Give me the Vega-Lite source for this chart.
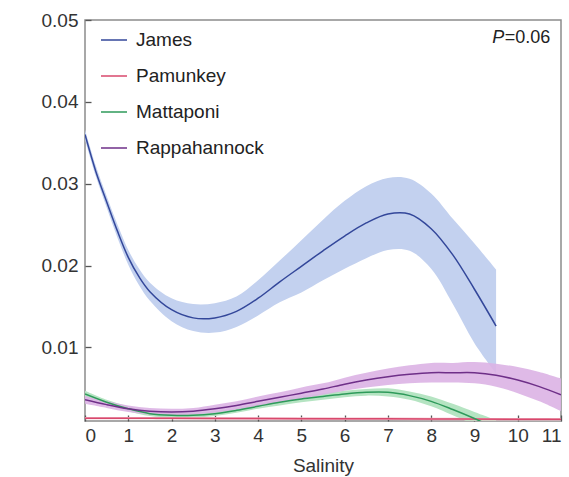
{
  "$schema": "https://vega.github.io/schema/vega-lite/v6.json",
  "width": 476,
  "height": 401,
  "autosize": "none",
  "padding": {"left": 85, "top": 20, "right": 8, "bottom": 56},
  "background": "white",
  "config": {
    "font": "Liberation Sans",
    "view": {"stroke": "#8c8c8c", "strokeWidth": 1.5},
    "axis": {
      "grid": false,
      "domain": false,
      "labelFont": "Liberation Sans",
      "labelFontSize": 19,
      "labelColor": "#333333",
      "titleFont": "Liberation Sans",
      "titleFontSize": 19,
      "titleFontWeight": "normal",
      "titleColor": "#333333"
    }
  },
  "datasets": {
    "fits": [
      {"s": "James", "x": 0, "y": 0.0360, "lo": 0.0354, "hi": 0.0366},
      {"s": "James", "x": 0.25, "y": 0.0315, "lo": 0.0309, "hi": 0.0322},
      {"s": "James", "x": 0.5, "y": 0.0278, "lo": 0.0271, "hi": 0.0285},
      {"s": "James", "x": 0.75, "y": 0.0242, "lo": 0.0234, "hi": 0.0250},
      {"s": "James", "x": 1, "y": 0.0210, "lo": 0.0201, "hi": 0.0219},
      {"s": "James", "x": 1.25, "y": 0.0186, "lo": 0.0176, "hi": 0.0196},
      {"s": "James", "x": 1.5, "y": 0.0168, "lo": 0.0157, "hi": 0.0179},
      {"s": "James", "x": 2, "y": 0.0146, "lo": 0.0132, "hi": 0.0160},
      {"s": "James", "x": 2.5, "y": 0.0136, "lo": 0.0120, "hi": 0.0153},
      {"s": "James", "x": 3, "y": 0.0136, "lo": 0.0118, "hi": 0.0154},
      {"s": "James", "x": 3.5, "y": 0.0144, "lo": 0.0125, "hi": 0.0162},
      {"s": "James", "x": 4, "y": 0.0160, "lo": 0.0139, "hi": 0.0182},
      {"s": "James", "x": 4.5, "y": 0.0180, "lo": 0.0155, "hi": 0.0206},
      {"s": "James", "x": 5, "y": 0.0199, "lo": 0.0167, "hi": 0.0231},
      {"s": "James", "x": 5.5, "y": 0.0218, "lo": 0.0182, "hi": 0.0256},
      {"s": "James", "x": 6, "y": 0.0236, "lo": 0.0196, "hi": 0.0279},
      {"s": "James", "x": 6.5, "y": 0.0252, "lo": 0.0209, "hi": 0.0297},
      {"s": "James", "x": 7, "y": 0.0263, "lo": 0.0219, "hi": 0.0307},
      {"s": "James", "x": 7.5, "y": 0.0263, "lo": 0.0218, "hi": 0.0306},
      {"s": "James", "x": 8, "y": 0.0245, "lo": 0.0196, "hi": 0.0288},
      {"s": "James", "x": 8.5, "y": 0.0213, "lo": 0.0153, "hi": 0.0257},
      {"s": "James", "x": 9, "y": 0.0171, "lo": 0.0105, "hi": 0.0227},
      {"s": "James", "x": 9.5, "y": 0.0126, "lo": 0.0068, "hi": 0.0195},
      {"s": "Pamunkey", "x": 0, "y": 0.00135, "lo": 0.0012, "hi": 0.0015},
      {"s": "Pamunkey", "x": 2, "y": 0.00133, "lo": 0.00118, "hi": 0.00148},
      {"s": "Pamunkey", "x": 4, "y": 0.0013, "lo": 0.00115, "hi": 0.00145},
      {"s": "Pamunkey", "x": 6, "y": 0.00128, "lo": 0.00113, "hi": 0.00143},
      {"s": "Pamunkey", "x": 8, "y": 0.00125, "lo": 0.0011, "hi": 0.0014},
      {"s": "Pamunkey", "x": 10, "y": 0.00122, "lo": 0.00107, "hi": 0.00137},
      {"s": "Pamunkey", "x": 11, "y": 0.0012, "lo": 0.00105, "hi": 0.00135},
      {"s": "Mattaponi", "x": 0, "y": 0.0043, "lo": 0.0039, "hi": 0.0047},
      {"s": "Mattaponi", "x": 0.5, "y": 0.0033, "lo": 0.0030, "hi": 0.0036},
      {"s": "Mattaponi", "x": 1, "y": 0.0025, "lo": 0.0022, "hi": 0.0028},
      {"s": "Mattaponi", "x": 1.5, "y": 0.0019, "lo": 0.0016, "hi": 0.0022},
      {"s": "Mattaponi", "x": 2, "y": 0.0017, "lo": 0.0014, "hi": 0.0020},
      {"s": "Mattaponi", "x": 2.5, "y": 0.0017, "lo": 0.0014, "hi": 0.0020},
      {"s": "Mattaponi", "x": 3, "y": 0.0019, "lo": 0.0016, "hi": 0.0022},
      {"s": "Mattaponi", "x": 3.5, "y": 0.0023, "lo": 0.0020, "hi": 0.0026},
      {"s": "Mattaponi", "x": 4, "y": 0.0028, "lo": 0.0025, "hi": 0.0031},
      {"s": "Mattaponi", "x": 4.5, "y": 0.0033, "lo": 0.0029, "hi": 0.0037},
      {"s": "Mattaponi", "x": 5, "y": 0.0037, "lo": 0.0033, "hi": 0.0041},
      {"s": "Mattaponi", "x": 5.5, "y": 0.0040, "lo": 0.0036, "hi": 0.0044},
      {"s": "Mattaponi", "x": 6, "y": 0.0043, "lo": 0.0039, "hi": 0.0047},
      {"s": "Mattaponi", "x": 6.5, "y": 0.0045, "lo": 0.0041, "hi": 0.0049},
      {"s": "Mattaponi", "x": 7, "y": 0.0045, "lo": 0.0040, "hi": 0.0050},
      {"s": "Mattaponi", "x": 7.5, "y": 0.0041, "lo": 0.0036, "hi": 0.0046},
      {"s": "Mattaponi", "x": 8, "y": 0.0034, "lo": 0.0028, "hi": 0.0040},
      {"s": "Mattaponi", "x": 8.5, "y": 0.0024, "lo": 0.0017, "hi": 0.0031},
      {"s": "Mattaponi", "x": 9, "y": 0.0013, "lo": 0.0005, "hi": 0.0021},
      {"s": "Mattaponi", "x": 9.25, "y": 0.0007, "lo": -0.0002, "hi": 0.0016},
      {"s": "Mattaponi", "x": 9.5, "y": 0.0001, "lo": -0.0009, "hi": 0.0011},
      {"s": "Rappahannock", "x": 0, "y": 0.0036, "lo": 0.0031, "hi": 0.0041},
      {"s": "Rappahannock", "x": 0.5, "y": 0.0030, "lo": 0.0026, "hi": 0.0034},
      {"s": "Rappahannock", "x": 1, "y": 0.0025, "lo": 0.0021, "hi": 0.0029},
      {"s": "Rappahannock", "x": 1.5, "y": 0.0022, "lo": 0.0018, "hi": 0.0026},
      {"s": "Rappahannock", "x": 2, "y": 0.0021, "lo": 0.0017, "hi": 0.0025},
      {"s": "Rappahannock", "x": 2.5, "y": 0.0022, "lo": 0.0018, "hi": 0.0026},
      {"s": "Rappahannock", "x": 3, "y": 0.0025, "lo": 0.0020, "hi": 0.0030},
      {"s": "Rappahannock", "x": 3.5, "y": 0.0029, "lo": 0.0024, "hi": 0.0034},
      {"s": "Rappahannock", "x": 4, "y": 0.0034, "lo": 0.0028, "hi": 0.0040},
      {"s": "Rappahannock", "x": 4.5, "y": 0.0039, "lo": 0.0033, "hi": 0.0045},
      {"s": "Rappahannock", "x": 5, "y": 0.0044, "lo": 0.0037, "hi": 0.0051},
      {"s": "Rappahannock", "x": 5.5, "y": 0.0049, "lo": 0.0042, "hi": 0.0056},
      {"s": "Rappahannock", "x": 6, "y": 0.0055, "lo": 0.0047, "hi": 0.0063},
      {"s": "Rappahannock", "x": 6.5, "y": 0.0060, "lo": 0.0051, "hi": 0.0069},
      {"s": "Rappahannock", "x": 7, "y": 0.0064, "lo": 0.0054, "hi": 0.0074},
      {"s": "Rappahannock", "x": 7.5, "y": 0.0067, "lo": 0.0056, "hi": 0.0078},
      {"s": "Rappahannock", "x": 8, "y": 0.0069, "lo": 0.0057, "hi": 0.0081},
      {"s": "Rappahannock", "x": 8.5, "y": 0.0069, "lo": 0.0057, "hi": 0.0081},
      {"s": "Rappahannock", "x": 9, "y": 0.0069, "lo": 0.0056, "hi": 0.0082},
      {"s": "Rappahannock", "x": 9.5, "y": 0.0066, "lo": 0.0052, "hi": 0.0080},
      {"s": "Rappahannock", "x": 10, "y": 0.0060, "lo": 0.0044, "hi": 0.0076},
      {"s": "Rappahannock", "x": 10.5, "y": 0.0052, "lo": 0.0034, "hi": 0.0070},
      {"s": "Rappahannock", "x": 11, "y": 0.0042, "lo": 0.0022, "hi": 0.0062}
    ],
    "note": [{"x": 10.75, "y": 0.0472, "p": "P", "rest": "=0.06"}]
  },
  "layer": [
    {
      "data": {"name": "fits"},
      "transform": [{"filter": "datum.s === 'James'"}],
      "mark": {"type": "area", "interpolate": "catmull-rom", "clip": true, "color": "#c3d1ef"},
      "encoding": {
        "x": {"field": "x", "type": "quantitative", "scale": {"domain": [0, 11], "nice": false},
              "axis": {"values": [0,1,2,3,4,5,6,7,8,9,10,11], "title": "Salinity",
                       "ticks": true, "tickSize": 6, "offset": -6, "tickColor": "#555555", "tickWidth": 1.3,
                       "labelPadding": 5, "titlePadding": 11}},
        "y": {"field": "lo", "type": "quantitative", "scale": {"domain": [0.001, 0.05], "nice": false, "zero": false},
              "axis": {"values": [0.01, 0.02, 0.03, 0.04, 0.05], "format": ".2f", "title": null,
                       "ticks": true, "tickSize": 6, "offset": -6, "tickColor": "#555555", "tickWidth": 1.3,
                       "labelPadding": 7}},
        "y2": {"field": "hi"}
      }
    },
    {
      "data": {"name": "fits"},
      "transform": [{"filter": "datum.s === 'Mattaponi'"}],
      "mark": {"type": "area", "interpolate": "catmull-rom", "clip": true, "color": "#b5e4c2"},
      "encoding": {
        "x": {"field": "x", "type": "quantitative"},
        "y": {"field": "lo", "type": "quantitative"},
        "y2": {"field": "hi"}
      }
    },
    {
      "data": {"name": "fits"},
      "transform": [{"filter": "datum.s === 'Rappahannock'"}],
      "mark": {"type": "area", "interpolate": "catmull-rom", "clip": true, "color": "#dcb2e4", "opacity": 0.9},
      "encoding": {
        "x": {"field": "x", "type": "quantitative"},
        "y": {"field": "lo", "type": "quantitative"},
        "y2": {"field": "hi"}
      }
    },
    {
      "data": {"name": "fits"},
      "transform": [{"filter": "datum.s === 'Pamunkey'"}],
      "mark": {"type": "area", "interpolate": "catmull-rom", "clip": true, "color": "#f3b9c8"},
      "encoding": {
        "x": {"field": "x", "type": "quantitative"},
        "y": {"field": "lo", "type": "quantitative"},
        "y2": {"field": "hi"}
      }
    },
    {
      "data": {"name": "fits"},
      "mark": {"type": "line", "interpolate": "catmull-rom", "clip": true, "strokeWidth": 1.5},
      "encoding": {
        "x": {"field": "x", "type": "quantitative"},
        "y": {"field": "y", "type": "quantitative"},
        "stroke": {"field": "s", "type": "nominal",
                   "scale": {"domain": ["James", "Pamunkey", "Mattaponi", "Rappahannock"],
                             "range": ["#33479a", "#d8486c", "#2e9a5a", "#6e2f88"]},
                   "legend": {"title": null, "orient": "none", "legendX": 15, "legendY": 6,
                              "symbolType": "stroke", "symbolSize": 676, "symbolStrokeWidth": 1.5,
                              "labelFont": "Liberation Sans", "labelFontSize": 19, "labelColor": "#222222",
                              "labelOffset": 8, "rowPadding": 12, "labelLimit": 300}}
      }
    },
    {
      "data": {"name": "note"},
      "mark": {"type": "text", "align": "right", "baseline": "alphabetic", "fontSize": 18, "color": "#222222", "font": "Liberation Sans"},
      "encoding": {
        "x": {"field": "x", "type": "quantitative"},
        "y": {"field": "y", "type": "quantitative"},
        "text": {"field": "rest"}
      }
    },
    {
      "data": {"name": "note"},
      "mark": {"type": "text", "align": "right", "baseline": "alphabetic", "fontSize": 18, "fontStyle": "italic", "color": "#222222", "font": "Liberation Sans", "dx": -46},
      "encoding": {
        "x": {"field": "x", "type": "quantitative"},
        "y": {"field": "y", "type": "quantitative"},
        "text": {"field": "p"}
      }
    }
  ]
}
